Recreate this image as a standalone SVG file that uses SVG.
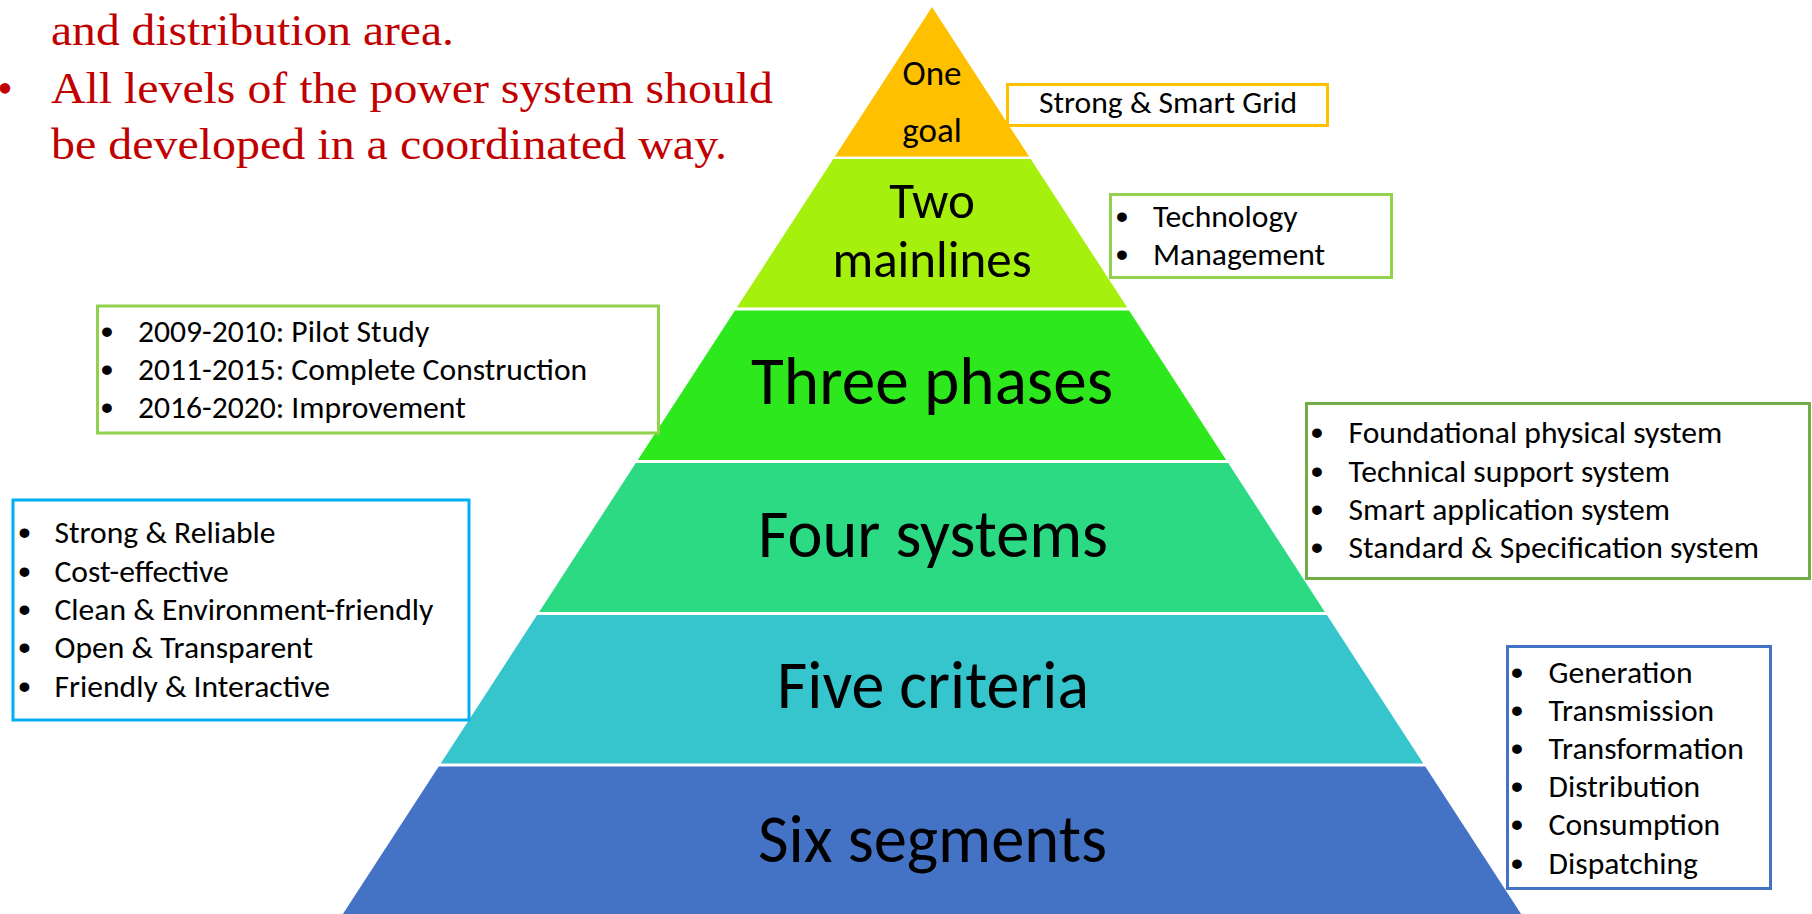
<svg xmlns="http://www.w3.org/2000/svg" width="1812" height="914" viewBox="0 0 1812 914">
  <style>
    .note { font-family: "Liberation Serif", "Times New Roman", serif; font-size: 44px; fill: #C00000; }
    .tier { font-family: Carlito, Lato, "Open Sans", sans-serif; fill: #000; text-anchor: middle; }
    .item { font-family: Carlito, Lato, "Open Sans", sans-serif; font-size: 31.6px; fill: #000; }
    .dot { font-family: "Liberation Sans", Arial, sans-serif; font-size: 34px; font-weight: bold; fill: #000; text-anchor: middle; }
    .box { fill: #fff; stroke-width: 3; }
  </style>

  <rect width="1812" height="914" fill="#fff"/>

  <!-- explanatory text, top left -->
  <g id="note">
    <text class="note" x="51" y="45" textLength="403" lengthAdjust="spacingAndGlyphs">and distribution area.</text>
    <text class="note" x="5" y="103" text-anchor="middle">•</text>
    <text class="note" x="51" y="103" textLength="722" lengthAdjust="spacingAndGlyphs">All levels of the power system should</text>
    <text class="note" x="51" y="159" textLength="676" lengthAdjust="spacingAndGlyphs">be developed in a coordinated way.</text>
  </g>

  <!-- pyramid tiers, apex (932,7), side slope 0.6495 -->
  <g id="tier-goal">
    <polygon points="932,7 1029.1,156.5 834.9,156.5" fill="#FFC000"/>
    <text class="tier" x="932" y="85" font-size="35">One</text>
    <text class="tier" x="932" y="142" font-size="35">goal</text>
  </g>
  <g id="tier-mainlines">
    <polygon points="833.3,159 1030.7,159 1127.2,307.5 736.8,307.5" fill="#A6F00E"/>
    <text class="tier" x="932" y="218" font-size="51">Two</text>
    <text class="tier" x="932" y="277" font-size="51">mainlines</text>
  </g>
  <g id="tier-phases">
    <polygon points="734.9,310.5 1129.1,310.5 1226.2,460 637.8,460" fill="#2EE81E"/>
    <text class="tier" x="932" y="404" font-size="68" textLength="362" lengthAdjust="spacingAndGlyphs">Three phases</text>
  </g>
  <g id="tier-systems">
    <polygon points="635.8,463 1228.2,463 1324.9,612 539.1,612" fill="#2BDA83"/>
    <text class="tier" x="933" y="557" font-size="68" textLength="350" lengthAdjust="spacingAndGlyphs">Four systems</text>
  </g>
  <g id="tier-criteria">
    <polygon points="537.1,615 1326.9,615 1423.3,763.5 440.7,763.5" fill="#37C5CD"/>
    <text class="tier" x="933" y="708" font-size="68" textLength="312" lengthAdjust="spacingAndGlyphs">Five criteria</text>
  </g>
  <g id="tier-segments">
    <polygon points="438.7,766.5 1425.3,766.5 1521.1,914 342.9,914" fill="#4472C4"/>
    <text class="tier" x="932.5" y="862" font-size="68" textLength="349" lengthAdjust="spacingAndGlyphs">Six segments</text>
  </g>

  <!-- side boxes -->
  <g id="box-goal">
    <rect class="box" x="1007.5" y="84.5" width="320" height="41" stroke="#FFC000"/>
    <text class="item" x="1039" y="113">Strong &amp; Smart Grid</text>
  </g>

  <g id="box-mainlines">
    <rect class="box" x="1110.5" y="194.5" width="281" height="83" stroke="#92D050"/>
    <text class="dot" x="1122" y="228">•</text>
    <text class="item" x="1153" y="227">Technology</text>
    <text class="dot" x="1122" y="266">•</text>
    <text class="item" x="1153" y="265">Management</text>
  </g>

  <g id="box-phases">
    <rect class="box" x="97.5" y="306" width="561" height="127" stroke="#92D050"/>
    <text class="dot" x="107" y="343">•</text>
    <text class="item" x="138" y="342">2009-2010: Pilot Study</text>
    <text class="dot" x="107" y="381">•</text>
    <text class="item" x="138" y="380">2011-2015: Complete Construction</text>
    <text class="dot" x="107" y="419">•</text>
    <text class="item" x="138" y="418">2016-2020: Improvement</text>
  </g>

  <g id="box-criteria">
    <rect class="box" x="13" y="500" width="456" height="220" stroke="#00B0F0"/>
    <text class="dot" x="24.5" y="544">•</text>
    <text class="item" x="54.5" y="543">Strong &amp; Reliable</text>
    <text class="dot" x="24.5" y="582.5">•</text>
    <text class="item" x="54.5" y="581.5">Cost-effective</text>
    <text class="dot" x="24.5" y="621">•</text>
    <text class="item" x="54.5" y="620">Clean &amp; Environment-friendly</text>
    <text class="dot" x="24.5" y="659">•</text>
    <text class="item" x="54.5" y="658">Open &amp; Transparent</text>
    <text class="dot" x="24.5" y="697.5">•</text>
    <text class="item" x="54.5" y="696.5">Friendly &amp; Interactive</text>
  </g>

  <g id="box-systems">
    <rect class="box" x="1306.5" y="403.5" width="503" height="175" stroke="#70AD47"/>
    <text class="dot" x="1317" y="444">•</text>
    <text class="item" x="1348.6" y="443">Foundational physical system</text>
    <text class="dot" x="1317" y="482.5">•</text>
    <text class="item" x="1348.6" y="481.5">Technical support system</text>
    <text class="dot" x="1317" y="520.6">•</text>
    <text class="item" x="1348.6" y="519.6">Smart application system</text>
    <text class="dot" x="1317" y="558.8">•</text>
    <text class="item" x="1348.6" y="557.8">Standard &amp; Specification system</text>
  </g>

  <g id="box-segments">
    <rect class="box" x="1507.5" y="646.5" width="263" height="242" stroke="#4472C4"/>
    <text class="dot" x="1517" y="684">•</text>
    <text class="item" x="1548.6" y="683">Generation</text>
    <text class="dot" x="1517" y="721.6">•</text>
    <text class="item" x="1548.6" y="720.6">Transmission</text>
    <text class="dot" x="1517" y="760">•</text>
    <text class="item" x="1548.6" y="759">Transformation</text>
    <text class="dot" x="1517" y="798">•</text>
    <text class="item" x="1548.6" y="797">Distribution</text>
    <text class="dot" x="1517" y="836">•</text>
    <text class="item" x="1548.6" y="835">Consumption</text>
    <text class="dot" x="1517" y="875">•</text>
    <text class="item" x="1548.6" y="874">Dispatching</text>
  </g>
</svg>
